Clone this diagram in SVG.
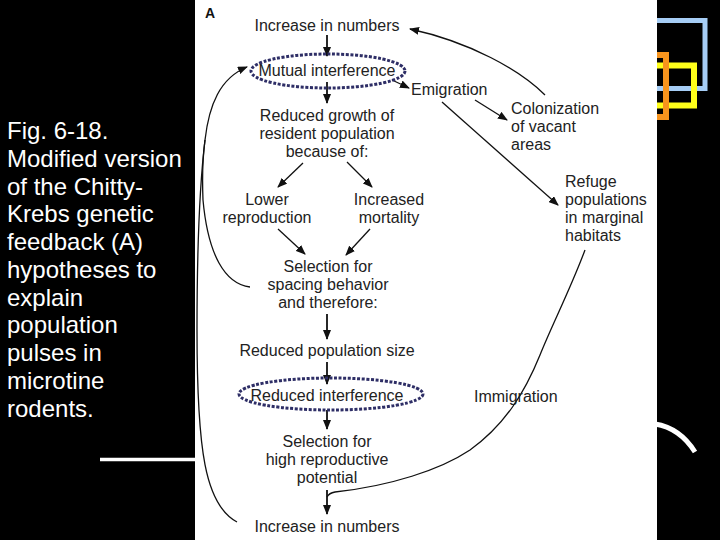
<svg xmlns="http://www.w3.org/2000/svg" width="720" height="540" viewBox="0 0 720 540">
<defs>
<style>
.cap{font-family:"Liberation Sans",Arial,sans-serif;font-size:24px;fill:#ffffff}
.t{font-family:"Liberation Sans",Arial,sans-serif;font-size:16px;fill:#222222}
.m{text-anchor:middle}
.ln{fill:none;stroke:#111111;stroke-width:1.3}
.va{fill:none;stroke:#111111;stroke-width:1.8}
.dot{fill:none;stroke:#2e2e66;stroke-width:3;stroke-dasharray:3 1.6}
.deco{fill:none}
</style>
<marker id="ah" markerUnits="userSpaceOnUse" markerWidth="10" markerHeight="8" refX="9" refY="4" orient="auto">
<path d="M0,0 L10,4 L0,8 Z" fill="#111111"/>
</marker>
</defs>
<rect x="0" y="0" width="720" height="540" fill="#000000"/>
<g id="decor">
<rect x="630" y="20.5" width="75" height="68" class="deco" stroke="#a6cdf5" stroke-width="5"/>
<rect x="630" y="65.5" width="64" height="40" class="deco" stroke="#ffff1a" stroke-width="6"/>
<rect x="620" y="55" width="46" height="62" class="deco" stroke="#f7941d" stroke-width="6"/>
<path d="M655,424 Q680,428 695,452" class="deco" stroke="#ffffff" stroke-width="5"/>
<line x1="100" y1="459.5" x2="197" y2="459.5" stroke="#ffffff" stroke-width="3.5"/>
</g>
<rect id="panel" x="195" y="0" width="462" height="540" fill="#ffffff"/>
<g id="caption">
<text class="cap" x="7" y="139">Fig. 6-18.</text>
<text class="cap" x="7" y="166.75">Modified version</text>
<text class="cap" x="7" y="194.5">of the Chitty-</text>
<text class="cap" x="7" y="222.25">Krebs genetic</text>
<text class="cap" x="7" y="250">feedback (A)</text>
<text class="cap" x="7" y="277.75">hypotheses to</text>
<text class="cap" x="7" y="305.5">explain</text>
<text class="cap" x="7" y="333.25">population</text>
<text class="cap" x="7" y="361">pulses in</text>
<text class="cap" x="7" y="388.75">microtine</text>
<text class="cap" x="7" y="416.5">rodents.</text>
</g>
<g id="label-A"><text x="205" y="17.5" font-family="Liberation Sans,Arial,sans-serif" font-size="14" font-weight="bold" fill="#111">A</text></g>
<g id="connectors">
<line class="va" x1="327" y1="35" x2="327" y2="56" marker-end="url(#ah)"/>
<line class="va" x1="327" y1="82" x2="327" y2="103" marker-end="url(#ah)"/>
<line class="ln" x1="303" y1="163" x2="278" y2="187" marker-end="url(#ah)"/>
<line class="ln" x1="347" y1="162" x2="372" y2="187" marker-end="url(#ah)"/>
<line class="ln" x1="278" y1="229" x2="305" y2="254" marker-end="url(#ah)"/>
<line class="ln" x1="370" y1="229" x2="346" y2="255" marker-end="url(#ah)"/>
<line class="va" x1="327" y1="314" x2="327" y2="339" marker-end="url(#ah)"/>
<line class="va" x1="327" y1="362" x2="327" y2="384" marker-end="url(#ah)"/>
<line class="va" x1="327" y1="410" x2="327" y2="429" marker-end="url(#ah)"/>
<line class="va" x1="327" y1="490" x2="327" y2="514" marker-end="url(#ah)"/>
<path class="ln" d="M237,522 C205,505 197,450 197,330 C197,250 199,190 205,140 C209,105 220,78 247,67" marker-end="url(#ah)"/>
<path class="ln" d="M250,287 C225,284 208,255 203,200 C202,175 203,155 205,140"/>
<line class="ln" x1="392" y1="80" x2="409" y2="88" marker-end="url(#ah)"/>
<line class="ln" x1="475" y1="100" x2="507" y2="120" marker-end="url(#ah)"/>
<line class="ln" x1="442" y1="102" x2="558" y2="205" marker-end="url(#ah)"/>
<path class="ln" d="M545,95 C520,70 470,42 410,29" marker-end="url(#ah)"/>
<path class="ln" d="M585,250 C570,290 552,325 540,355 C525,392 505,425 470,450 C440,470 390,486 335,492 Q329,493 327,497"/>
</g>
<g id="n-increase-top"><text class="t m" x="327" y="31">Increase in numbers</text></g>
<g id="n-mutual">
<ellipse class="dot" cx="328" cy="71" rx="77" ry="17"/>
<text class="t m" x="327" y="76">Mutual interference</text>
</g>
<g id="n-reduced-growth">
<text class="t m" x="327" y="121">Reduced growth of</text>
<text class="t m" x="327" y="139">resident population</text>
<text class="t m" x="327" y="157">because of:</text>
</g>
<g id="n-lower"><text class="t m" x="267" y="205">Lower</text><text class="t m" x="267" y="223">reproduction</text></g>
<g id="n-increased"><text class="t m" x="389" y="205">Increased</text><text class="t m" x="389" y="223">mortality</text></g>
<g id="n-selection-spacing">
<text class="t m" x="328" y="272">Selection for</text>
<text class="t m" x="328" y="290">spacing behavior</text>
<text class="t m" x="328" y="307.5">and therefore:</text>
</g>
<g id="n-reduced-size"><text class="t m" x="327" y="356">Reduced population size</text></g>
<g id="n-reduced-interference">
<ellipse class="dot" cx="331" cy="394" rx="92" ry="16"/>
<text class="t m" x="327" y="401">Reduced interference</text>
</g>
<g id="n-selection-high">
<text class="t m" x="327" y="446.5">Selection for</text>
<text class="t m" x="327" y="464.5">high reproductive</text>
<text class="t m" x="327" y="482.5">potential</text>
</g>
<g id="n-increase-bottom"><text class="t m" x="327" y="532">Increase in numbers</text></g>
<g id="n-emigration"><text class="t" x="411" y="95">Emigration</text></g>
<g id="n-colonization">
<text class="t" x="511" y="113.5">Colonization</text>
<text class="t" x="511" y="131.5">of vacant</text>
<text class="t" x="511" y="149.5">areas</text>
</g>
<g id="n-refuge">
<text class="t" x="565" y="187">Refuge</text>
<text class="t" x="565" y="205">populations</text>
<text class="t" x="565" y="223">in marginal</text>
<text class="t" x="565" y="241">habitats</text>
</g>
<g id="n-immigration"><text class="t" x="474" y="402">Immigration</text></g>
</svg>
